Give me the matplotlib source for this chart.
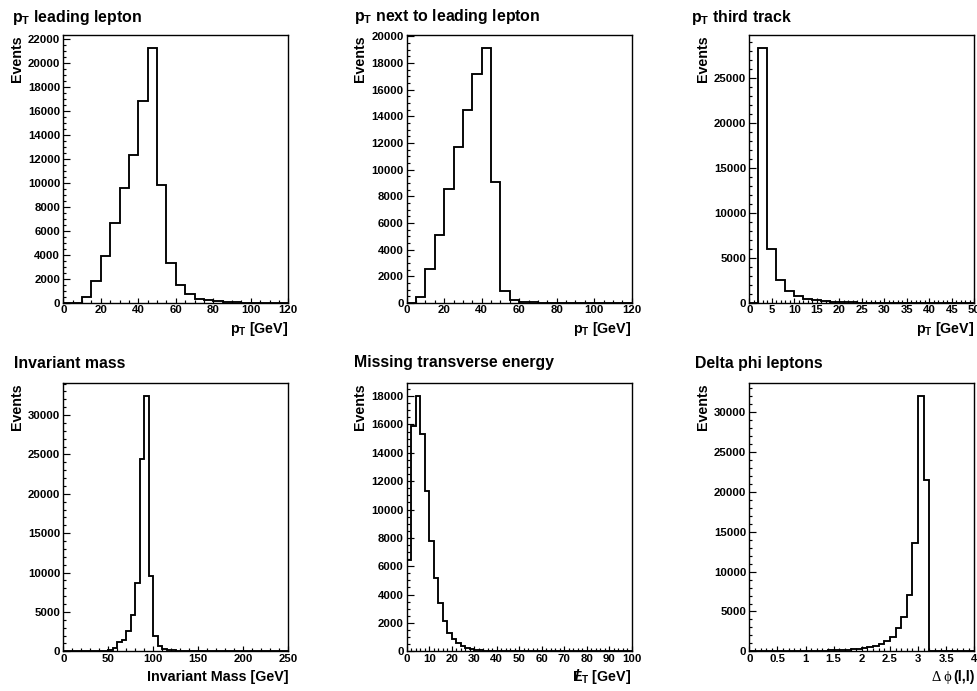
import numpy as np
import matplotlib
matplotlib.use("Agg")
import matplotlib.pyplot as plt
from matplotlib.ticker import MultipleLocator, FuncFormatter

plt.rcParams.update({
    "font.family": ["Liberation Sans", "DejaVu Sans"],
    "font.weight": "bold",
    "axes.labelweight": "bold",
    "mathtext.fontset": "custom",
    "mathtext.rm": "Liberation Sans:bold",
    "mathtext.it": "Liberation Sans:bold",
    "mathtext.bf": "Liberation Sans:bold",
    "mathtext.sf": "Liberation Sans:bold",
    "axes.linewidth": 1.0,
})

# ---- histogram contents (events per bin) ----
lead_pt_range = (0, 120, 24)
lead_pt = [0, 0, 500, 1850, 3950, 6650, 9550, 12300, 16850, 21250, 9800, 3300,
           1500, 780, 360, 230, 170, 100, 55, 30, 15, 8, 4, 2]

sublead_pt_range = (0, 120, 24)
sublead_pt = [0, 450, 2550, 5100, 8550, 11700, 14450, 17150, 19150, 9050, 870, 200,
              90, 40, 15, 5, 0, 0, 0, 0, 0, 0, 0, 0]

third_pt_range = (0, 50, 25)
third_pt = [0, 28330, 6040, 2520, 1300, 780, 480, 300, 190, 130, 90, 65, 48,
            35, 25, 18, 12, 8, 6, 4, 3, 2, 1, 1, 0]

inv_mass_range = (0, 250, 50)
inv_mass = [0, 0, 0, 0, 0, 0, 0, 0, 20, 60, 210, 420, 1180, 1480, 2600, 4620,
            8650, 24400, 32420, 9620, 1950, 720, 340, 200, 120, 70, 45, 30, 20,
            12, 8, 5, 3, 2, 1, 1, 0, 0, 0, 0, 0, 0, 0, 0, 0, 0, 0, 0, 0, 0]

met_range = (0, 100, 50)
met = [6450, 15900, 18000, 15300, 11300, 7800, 5200, 3400, 2150, 1300, 850,
       560, 360, 230, 150, 95, 60, 40, 25, 15, 10, 6, 4, 2, 1, 1, 0, 0, 0, 0,
       0, 0, 0, 0, 0, 0, 0, 0, 0, 0, 0, 0, 0, 0, 0, 0, 0, 0, 0, 0]

dphi_range = (0, 4, 40)
dphi = [18, 19, 21, 23, 26, 29, 33, 37, 42, 48, 56, 66, 78, 92, 110, 135, 165,
        205, 260, 330, 420, 545, 710, 920, 1340, 1840, 2890, 4320, 7080, 13620,
        32050, 21500, 0, 0, 0, 0, 0, 0, 0, 0]

titles = [r"$p_T$ leading lepton", r"$p_T$ next to leading lepton",
          r"$p_T$ third track", "Invariant mass",
          "Missing transverse energy", "Delta phi leptons"]
xlabels = [r"$p_T$ [GeV]", r"$p_T$ [GeV]", r"$p_T$ [GeV]",
           "Invariant Mass [GeV]", r"$E_T$ [GeV]", "(l,l)"]

hists = [(lead_pt, lead_pt_range), (sublead_pt, sublead_pt_range),
         (third_pt, third_pt_range), (inv_mass, inv_mass_range),
         (met, met_range), (dphi, dphi_range)]

x_major = [20, 20, 5, 50, 10, 0.5]
x_minor = [5, 5, 1, 10, 2, 0.1]
y_major = [2000, 2000, 5000, 5000, 2000, 5000]
y_minor = [500, 500, 1000, 1000, 500, 1000]

# ---- layout (pixels) ----
W, H = 978, 691
fig = plt.figure(figsize=(W / 100, H / 100), dpi=100)
fig.patch.set_facecolor("white")

col_left = [63.3, 406.7, 749.3]
row_top = [35, 383.3]
ax_w, ax_h = 225, 268
title_pos = [(12, 22), (354, 21), (691, 22), (14, 368), (354, 367), (695, 368)]

axes = []
for i, ((vals, (lo, hi, nb)), title) in enumerate(zip(hists, titles)):
    r, c = divmod(i, 3)
    left = col_left[c] / W
    bottom = (H - row_top[r] - ax_h) / H
    ax = fig.add_axes([left, bottom, ax_w / W, ax_h / H])
    axes.append(ax)

    edges = np.linspace(lo, hi, nb + 1)
    vals = np.asarray(vals, dtype=float)
    ax.stairs(vals, edges, color="black", linewidth=1.35, baseline=0)
    ax.set_xlim(lo, hi)
    ax.set_ylim(0, 1.05 * vals.max())

    ax.xaxis.set_major_locator(MultipleLocator(x_major[i]))
    ax.xaxis.set_minor_locator(MultipleLocator(x_minor[i]))
    ax.yaxis.set_major_locator(MultipleLocator(y_major[i]))
    ax.yaxis.set_minor_locator(MultipleLocator(y_minor[i]))
    ax.xaxis.set_major_formatter(FuncFormatter(lambda v, p: f"{v:g}"))
    ax.yaxis.set_major_formatter(FuncFormatter(lambda v, p: f"{v:.0f}"))

    ax.tick_params(which="both", direction="in", top=False, right=False,
                   labelsize=8.2, width=0.85, colors="black")
    ax.tick_params(axis="x", which="major", length=3.4, pad=1.6)
    ax.tick_params(axis="x", which="minor", length=1.9)
    ax.tick_params(axis="y", which="major", length=5.0, pad=2.2)
    ax.tick_params(axis="y", which="minor", length=2.5)

    ax.set_ylabel("Events", fontsize=10.3, ha="right")
    ax.yaxis.set_label_coords(-0.175, 1.0)
    ax.set_xlabel(xlabels[i], fontsize=10.3, ha="right", va="baseline")
    ax.xaxis.set_label_coords(1.0, -29.5 / ax_h)

    tx, ty = title_pos[i]
    fig.text(tx / W, 1 - ty / H, title, fontsize=11.4, ha="left",
             va="baseline")

fig.canvas.draw()
renderer = fig.canvas.get_renderer()

# slash through the E of the missing-energy label
lab = axes[4].xaxis.label
bb = lab.get_window_extent(renderer)
anchor = lab.get_transform().transform(lab.get_position())
fig.text((bb.x0 + 4.8) / W, anchor[1] / H, "/", fontsize=11.5,
         ha="center", va="baseline")

# Greek part of the delta-phi label
lab = axes[5].xaxis.label
bb = lab.get_window_extent(renderer)
anchor = lab.get_transform().transform(lab.get_position())
fig.text((bb.x0 - 1) / W, anchor[1] / H, "\u0394 \u03d5", fontsize=10.5,
         fontweight="normal", family=["Liberation Serif", "DejaVu Serif"],
         ha="right", va="baseline")

fig.savefig("out.png", dpi=100, facecolor="white")
